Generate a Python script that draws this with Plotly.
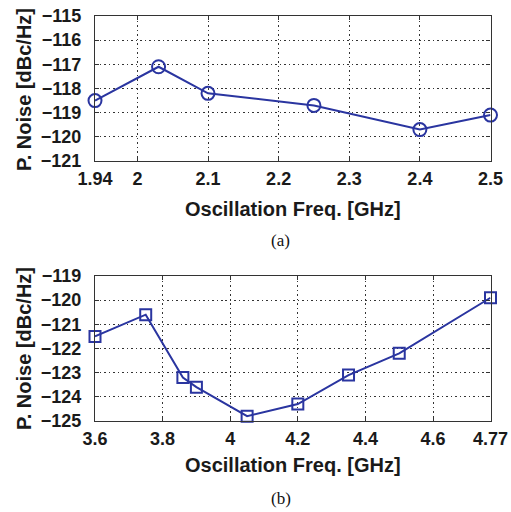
import plotly.graph_objects as go

# (a) data
freq_a = [1.94, 2.03, 2.1, 2.25, 2.4, 2.5]
pn_a = [-118.5, -117.1, -118.2, -118.7, -119.7, -119.1]
xticks_a = [1.94, 2, 2.1, 2.2, 2.3, 2.4, 2.5]
xticktext_a = ["1.94", "2", "2.1", "2.2", "2.3", "2.4", "2.5"]
yticks_a = [-121, -120, -119, -118, -117, -116, -115]

# (b) data
freq_b = [3.6, 3.75, 3.86, 3.9, 4.05, 4.2, 4.35, 4.5, 4.77]
pn_b = [-121.5, -120.6, -123.2, -123.6, -124.8, -124.3, -123.1, -122.2, -119.9]
xticks_b = [3.6, 3.8, 4, 4.2, 4.4, 4.6, 4.77]
xticktext_b = ["3.6", "3.8", "4", "4.2", "4.4", "4.6", "4.77"]
yticks_b = [-125, -124, -123, -122, -121, -120, -119]

x_title = "Oscillation Freq. [GHz]"
y_title = "P. Noise [dBc/Hz]"

W, H = 511, 512
LINE = "#2a35a0"
FONT = "Liberation Sans, Arial, sans-serif"

fig = go.Figure()
fig.add_trace(go.Scatter(x=freq_a, y=pn_a, mode="lines+markers",
                         line=dict(color=LINE, width=2),
                         marker=dict(symbol="circle-open", size=13, color=LINE,
                                     line=dict(width=2, color=LINE)),
                         xaxis="x", yaxis="y", showlegend=False, cliponaxis=False))
fig.add_trace(go.Scatter(x=freq_b, y=pn_b, mode="lines+markers",
                         line=dict(color=LINE, width=2),
                         marker=dict(symbol="square-open", size=11, color=LINE,
                                     line=dict(width=2, color=LINE)),
                         xaxis="x2", yaxis="y2", showlegend=False, cliponaxis=False))

x0, x1 = 95 / W, 490.5 / W
top_a, bot_a = 16, 161
top_b, bot_b = 276, 421

def py(p):
    return 1 - p / H

tickfont = dict(family=FONT, size=18, color="#1a1a1a", weight="bold")
common_axis = dict(showline=True, linecolor="#333", linewidth=1.2, mirror="ticks",
                   ticks="inside", ticklen=4, tickcolor="#333", automargin=False,
                   showgrid=True, gridcolor="#333", griddash="1.5px,3px", gridwidth=1,
                   zeroline=False, tickfont=tickfont)

fig.update_layout(
    template="none",
    width=W, height=H, autosize=False,
    margin=dict(l=0, r=0, t=0, b=0, pad=0),
    paper_bgcolor="white", plot_bgcolor="white",
    xaxis=dict(domain=[x0, x1], range=[1.94, 2.5], tickvals=xticks_a,
               ticktext=xticktext_a, anchor="y", ticklabelstandoff=1, **common_axis),
    yaxis=dict(domain=[py(bot_a), py(top_a)], range=[-121, -115], tickvals=yticks_a,
               anchor="x", ticklabelstandoff=9, **common_axis),
    xaxis2=dict(domain=[x0, x1], range=[3.6, 4.77], tickvals=xticks_b,
                ticktext=xticktext_b, anchor="y2", ticklabelstandoff=1, **common_axis),
    yaxis2=dict(domain=[py(bot_b), py(top_b)], range=[-125, -119], tickvals=yticks_b,
                anchor="x2", ticklabelstandoff=9, **common_axis),
)

titlefont = dict(family=FONT, size=20, color="#1a1a1a", weight="bold")
capfont = dict(family="Liberation Serif, Times New Roman, serif", size=17, color="#111")
annots = [
    dict(text=x_title, x=(x0 + x1) / 2, y=py(209), font=titlefont),
    dict(text=x_title, x=(x0 + x1) / 2, y=py(465), font=titlefont),
    dict(text=y_title, x=24 / W, y=py(90), font=titlefont, textangle=-90),
    dict(text=y_title, x=24 / W, y=py(349), font=titlefont, textangle=-90),
    dict(text="(a)", x=280 / W, y=py(240), font=capfont),
    dict(text="(b)", x=281 / W, y=py(498), font=capfont),
]
for a in annots:
    fig.add_annotation(xref="paper", yref="paper", showarrow=False,
                       xanchor="center", yanchor="middle", **a)

fig.write_html("out.html")
